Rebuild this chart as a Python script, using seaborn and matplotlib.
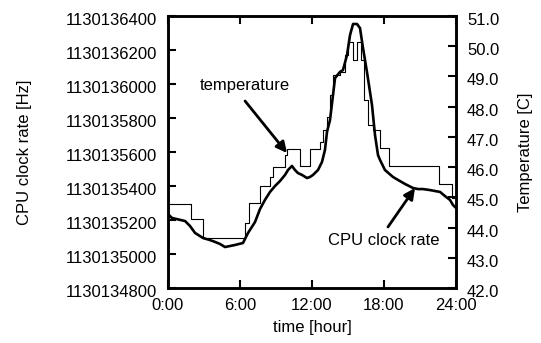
import matplotlib
matplotlib.use("Agg")
import matplotlib.pyplot as plt
import matplotlib.transforms as mtransforms
import seaborn as sns
import pandas as pd

# ---- data ----
cpu_hours = [0.0, 0.33, 1.42, 1.83, 2.25, 2.92, 3.5, 3.92, 4.33, 4.75, 5.17, 5.58,
             6.25, 6.67, 7.25, 7.67, 8.08, 8.5, 8.92, 9.33, 9.75, 10.0, 10.33, 10.58,
             10.83, 11.17, 11.58, 11.83, 12.08, 12.5, 12.83, 13.08, 13.25, 13.5, 13.75,
             13.92, 14.33, 14.58, 14.92, 15.17, 15.42, 15.75, 16.0, 16.25, 16.58, 17.0,
             17.25, 17.5, 17.67, 18.08, 18.75, 19.33, 19.75, 20.42, 20.83, 21.25, 21.83,
             22.67, 23.08, 23.5, 23.75, 24.0]
cpu_clock = [1130135235, 1130135212, 1130135194, 1130135165, 1130135124, 1130135094,
             1130135082, 1130135071, 1130135059, 1130135041, 1130135047, 1130135053,
             1130135065, 1130135124, 1130135188, 1130135265, 1130135318, 1130135365,
             1130135400, 1130135429, 1130135465, 1130135494, 1130135518, 1130135494,
             1130135476, 1130135465, 1130135447, 1130135453, 1130135465, 1130135494,
             1130135541, 1130135612, 1130135718, 1130135788, 1130135935, 1130136035,
             1130136071, 1130136082, 1130136171, 1130136288, 1130136353, 1130136353,
             1130136329, 1130136212, 1130136071, 1130135876, 1130135700, 1130135582,
             1130135553, 1130135494, 1130135453, 1130135429, 1130135412, 1130135388,
             1130135382, 1130135382, 1130135376, 1130135365, 1130135341, 1130135318,
             1130135288, 1130135271]

temp_hours = [0.0, 1.92, 2.92, 6.42, 6.75, 7.67, 8.5, 8.75, 9.75, 9.92, 11.0, 11.83,
              12.67, 12.92, 13.25, 13.5, 13.75, 14.33, 14.75, 15.0, 15.42, 15.75,
              16.08, 16.33, 16.67, 17.08, 17.67, 18.42, 22.58, 23.67, 24.0]
temp_values = [44.78, 44.28, 43.67, 44.15, 44.81, 45.38, 45.67, 46.0, 46.40, 46.60,
               46.04, 46.60, 46.83, 47.23, 47.66, 48.39, 49.05, 49.15, 49.71, 50.14,
               49.54, 50.14, 49.54, 48.22, 47.39, 47.23, 46.63, 46.04, 45.44, 44.98,
               44.98]

x_ticks = [0, 6, 12, 18, 24]
x_ticklabels = ["0:00", "6:00", "12:00", "18:00", "24:00"]
cpu_ticks = [1130134800, 1130135000, 1130135200, 1130135400, 1130135600,
             1130135800, 1130136000, 1130136200, 1130136400]
temp_ticks = [42.0, 43.0, 44.0, 45.0, 46.0, 47.0, 48.0, 49.0, 50.0, 51.0]

cpu_df = pd.DataFrame({"hour": cpu_hours, "clock": cpu_clock})
temp_df = pd.DataFrame({"hour": temp_hours, "temp": temp_values})

# ---- style ----
sns.set_style("ticks")
plt.rcParams["font.family"] = ["Liberation Sans", "DejaVu Sans"]
plt.rcParams["text.color"] = "black"
plt.rcParams["axes.labelcolor"] = "black"
plt.rcParams["xtick.color"] = "black"
plt.rcParams["ytick.color"] = "black"
FS = 12

fig = plt.figure(figsize=(5.41, 3.43), dpi=100)
ax = fig.add_axes([168 / 541, 1 - 288 / 343, (456 - 168) / 541, (288 - 16) / 343])
ax2 = ax.twinx()

sns.lineplot(data=cpu_df, x="hour", y="clock", ax=ax, color="black", lw=1.9)
sns.lineplot(data=temp_df, x="hour", y="temp", ax=ax2, color="black", lw=0.8,
             drawstyle="steps-post")

ax.set_xlim(0, 24)
ax.set_ylim(1130134800, 1130136400)
ax2.set_ylim(42, 51)

ax.set_xticks(x_ticks)
ax.set_xticklabels(x_ticklabels, fontsize=FS)
ax.set_yticks(cpu_ticks)
ax.set_yticklabels([str(v) for v in cpu_ticks], fontsize=FS)
ax2.set_yticks(temp_ticks)
ax2.set_yticklabels([f"{v:.1f}" for v in temp_ticks], fontsize=FS)

ax.tick_params(axis="x", direction="in", length=6, width=1.5, top=True,
               bottom=True, pad=7, colors="black", labelcolor="black")
ax.tick_params(axis="y", direction="in", length=6, width=1.5, left=True,
               right=False, pad=8, colors="black", labelcolor="black")
ax2.tick_params(axis="y", direction="in", length=6, width=1.5, left=False,
                right=True, pad=8, colors="black", labelcolor="black")

for a in (ax, ax2):
    for s in a.spines.values():
        s.set_visible(True)
        s.set_linewidth(1.8)
        s.set_color("black")

ax.set_xlabel("time [hour]", fontsize=FS, labelpad=5, color="black")
ax.set_ylabel("CPU clock rate [Hz]", fontsize=FS, labelpad=24, color="black")
ax2.set_ylabel("Temperature [C]", fontsize=FS, labelpad=13, rotation=90, color="black")

# slight downward shift of y tick labels as in the reference
off = mtransforms.ScaledTranslation(0, -3 / 100, fig.dpi_scale_trans)
for lab in ax.get_yticklabels() + ax2.get_yticklabels():
    lab.set_transform(lab.get_transform() + off)

# annotations
ax.text(6.42, 1130135994, "temperature", fontsize=FS, ha="center", va="center",
        color="black")
ax.annotate("", xy=(9.92, 1130135594), xytext=(6.42, 1130135900),
            arrowprops=dict(arrowstyle="-|>", color="black", lw=2,
                            mutation_scale=16, shrinkA=0, shrinkB=0))
ax.text(18.0, 1130135077, "CPU clock rate", fontsize=FS, ha="center", va="center",
        color="black")
ax.annotate("", xy=(20.58, 1130135388), xytext=(18.33, 1130135159),
            arrowprops=dict(arrowstyle="-|>", color="black", lw=2,
                            mutation_scale=16, shrinkA=0, shrinkB=0))

fig.savefig("out.png", dpi=100)
